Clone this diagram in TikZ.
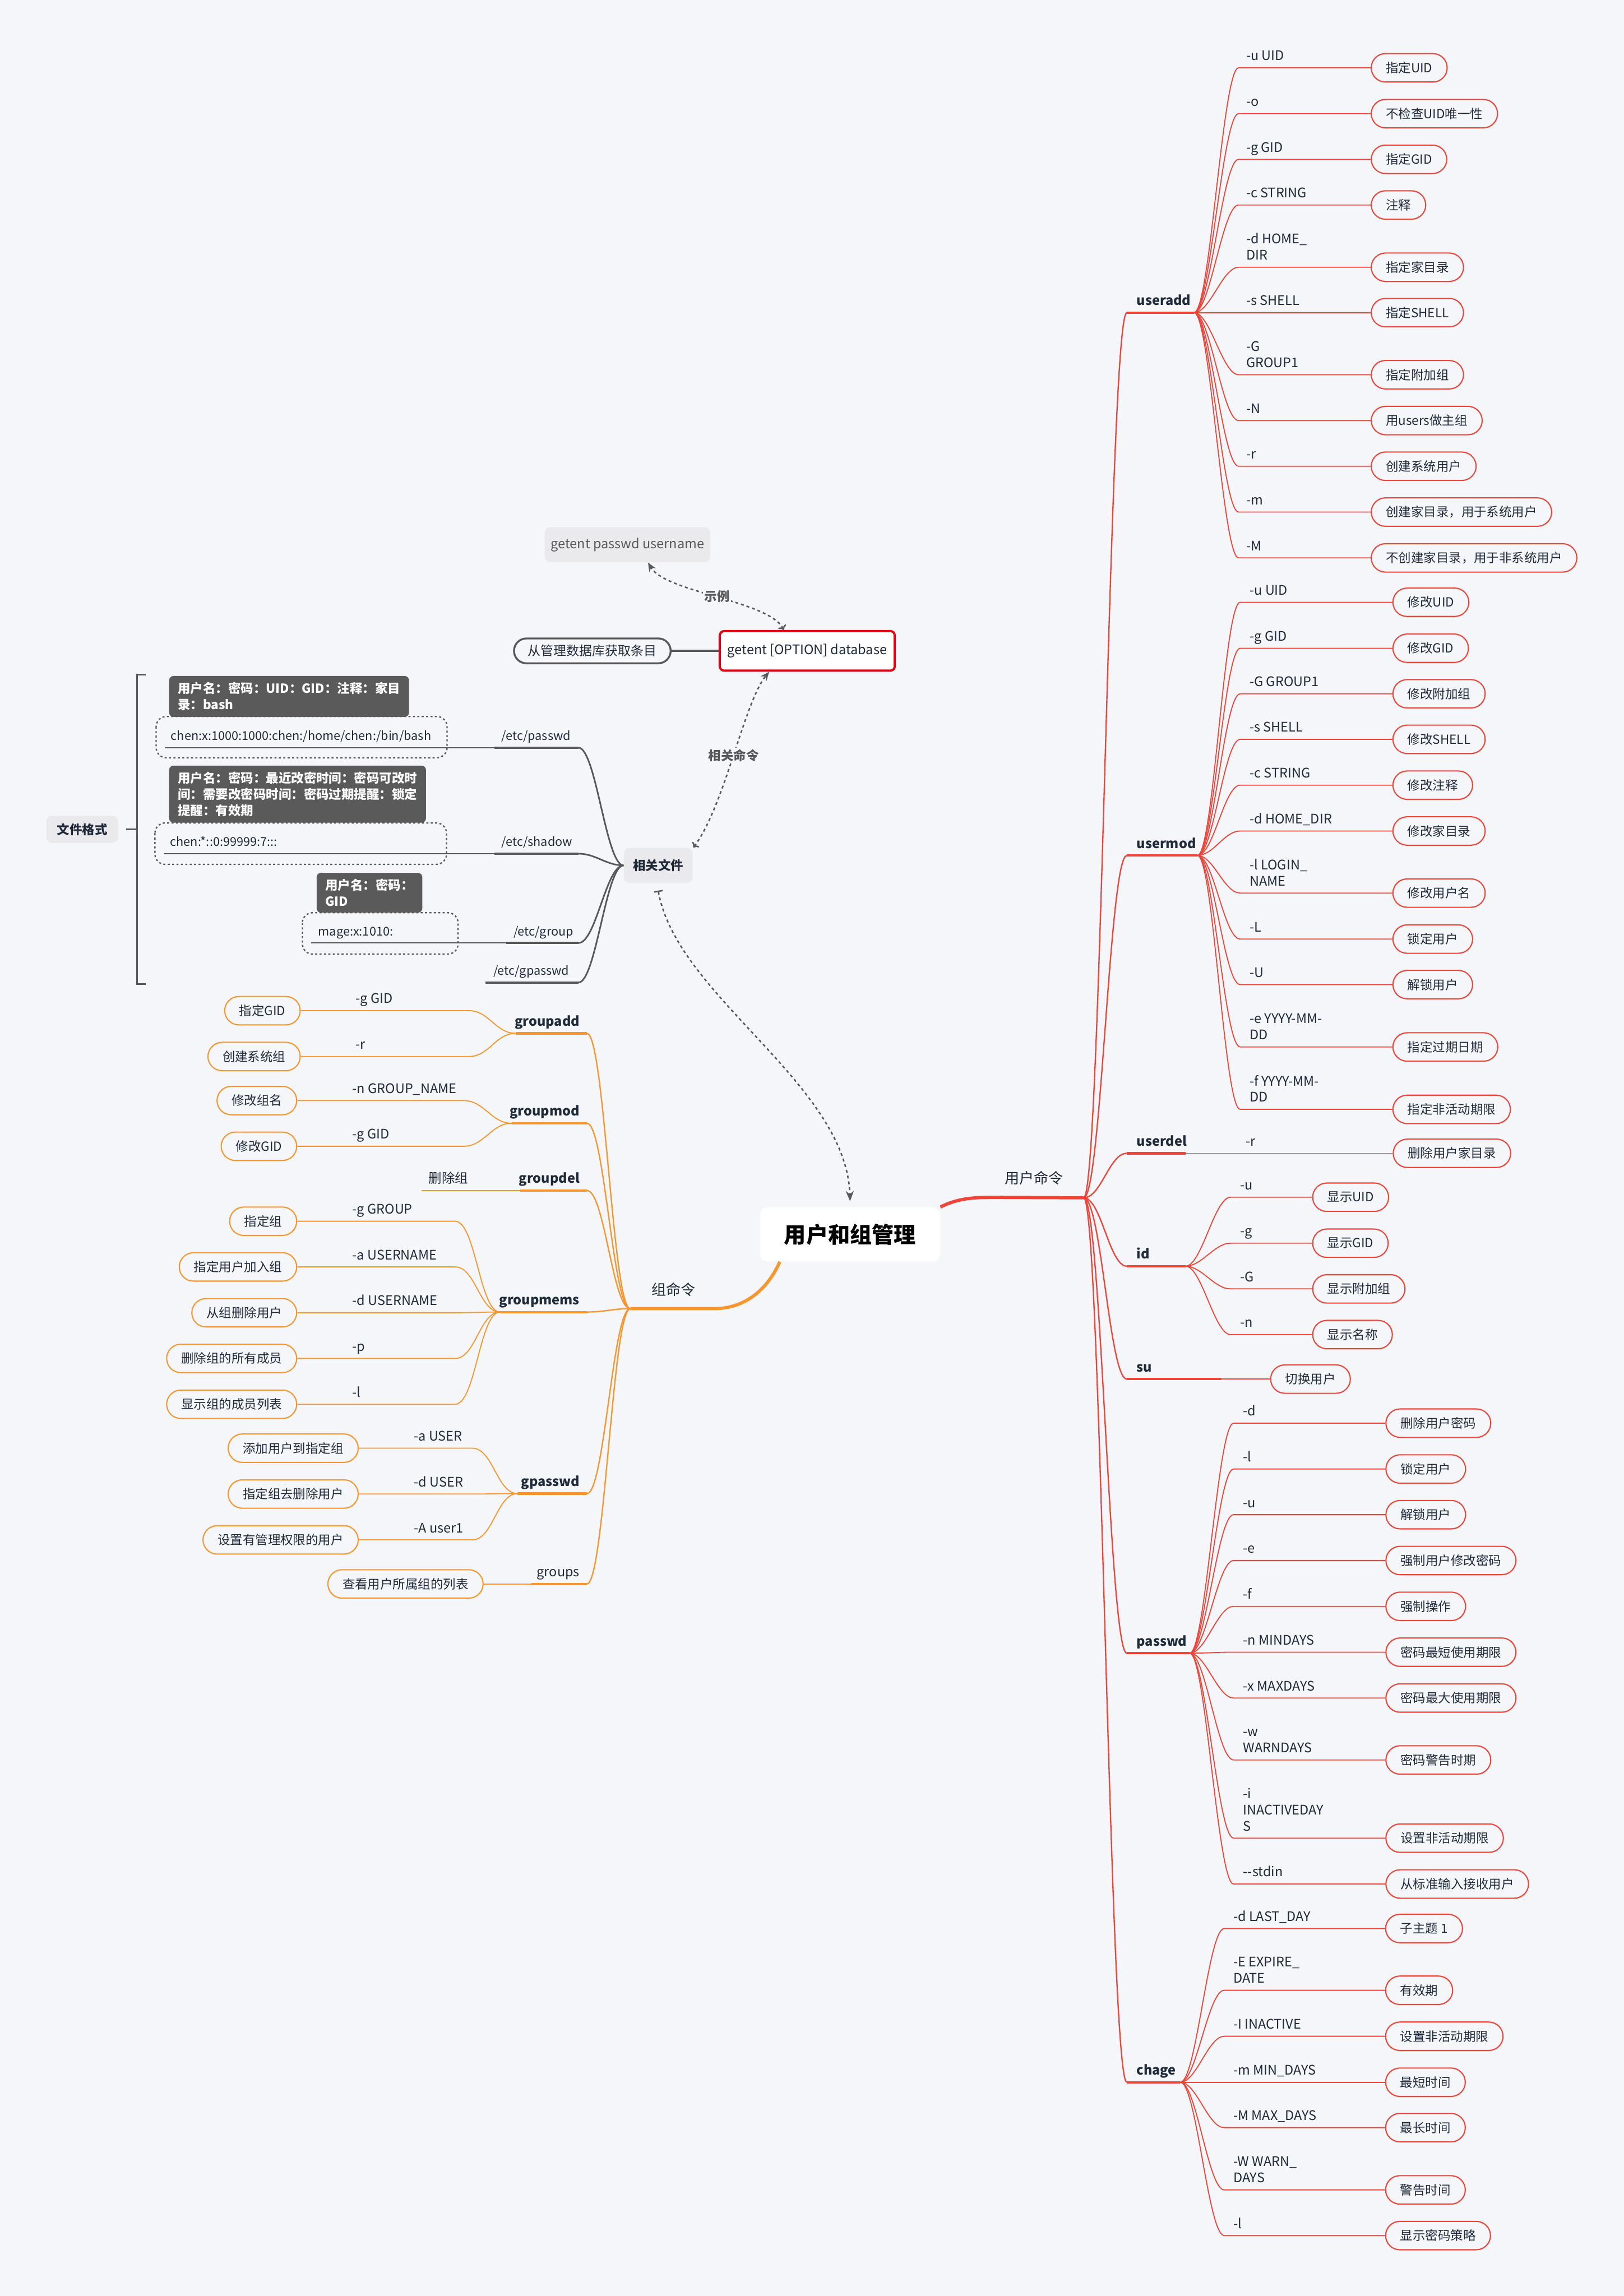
\documentclass[tikz,border=0pt]{standalone}
\usepackage{fontspec}
\setmainfont{Noto Sans CJK SC}
\usetikzlibrary{arrows.meta, positioning}
\tikzset{>=Stealth}
\definecolor{bg}{RGB}{245,246,250}
\definecolor{ured}{RGB}{240,68,56}
\definecolor{gorg}{RGB}{248,150,46}
\definecolor{ink}{RGB}{31,42,58}
\definecolor{fline}{RGB}{88,88,88}
\definecolor{tagbg}{RGB}{90,90,90}
\definecolor{boxgrey}{RGB}{234,234,236}
\definecolor{hotred}{RGB}{232,0,18}

\begin{document}
\begin{tikzpicture}[x=1pt, y=-1pt,
  lbl/.style={anchor=south west, inner sep=0.5pt, align=left, text=ink,
    font=\fontsize{9}{11}\selectfont, execute at end node={\strut}},
  small/.style={lbl, font=\fontsize{8.3}{11}\selectfont},
  cmd/.style={lbl, font=\fontsize{9}{11}\selectfont\bfseries},
  cmdr/.style={cmd, anchor=south east},
  pillR/.style={draw=ured, line width=0.8pt, rounded corners=9.7pt,
    minimum height=19.4pt, inner xsep=10pt, inner ysep=0pt, anchor=west,
    text=ink, font=\fontsize{8.6}{11}\selectfont},
  pillO/.style={pillR, draw=gorg, anchor=east},
  fanR/.style={ured, line width=0.9pt},
  ulR/.style={ured, line width=1.6pt},
  subR/.style={ured, line width=0.7pt},
  fanO/.style={gorg, line width=0.9pt},
  ulO/.style={gorg, line width=1.6pt},
  subO/.style={gorg, line width=0.7pt},
  fanG/.style={fline, line width=1.1pt},
  ulG/.style={fline, line width=1.5pt},
  subG/.style={fline, line width=0.7pt},
  dotbox/.style={fline, line width=0.9pt, dash pattern=on 1.4pt off 1.6pt, rounded corners=7pt},
  tag/.style={fill=tagbg, text=white, anchor=south west, align=left, inner xsep=6pt,
    inner ysep=4.3pt, rounded corners=3pt, font=\fontsize{8.6}{11}\selectfont\bfseries},
  topic/.style={fill=boxgrey, rounded corners=4pt, text=ink, font=\fontsize{8.6}{11}\selectfont\bfseries},
  rel/.style={fline, line width=1pt, dash pattern=on 2pt off 2pt},
  relt/.style={fill=bg, inner sep=1pt, text=fline, font=\fontsize{8.6}{11}\selectfont\bfseries}]
\path[use as bounding box, fill=bg] (0,0) rectangle (1109,1568);

\node[fill=white, rounded corners=5pt, minimum width=123pt, minimum height=37pt,
  font=\fontsize{15}{18}\selectfont\bfseries] (root) at (580.5,843) {用户和组管理};
\coordinate (U) at (740,818);
\coordinate (G) at (430.4,893.7);
\draw[ured, line width=2.2pt] (root.north east) .. controls +(12,-6) and +(-16,0) .. (680,817.7) -- (U);
\draw[gorg, line width=2.2pt] ([xshift=-48pt]root.south) .. controls +(-8,18) and +(22,0) .. (487.6,893.7) -- (G);
\node[text=ink, font=\fontsize{10}{12}\selectfont] (ucmd) at (706,804.5) {用户命令};
\node[text=ink, font=\fontsize{10}{12}\selectfont] (gcmd) at (460,880.5) {组命令};

% user commands
\foreach \n/\y/\h/\lab in {uadd/213.5/815.4/useradd, umod/584.2/817.7/usermod,
  udel/787.6/809.6/userdel, uid/864.7/809.6/id, usu/941.8/833.8/su,
  upw/1129/812.4/passwd, uch/1422/806/chage}{
  \coordinate (\n0) at (769.5,\y);
  \coordinate (\n) at (\h,\y);
  \draw[fanR] (U) .. controls +(12,0) and +(-12,0) .. (\n0);
  \draw[ulR] (\n0) -- (\n);
  \node[cmd] (\n T) at (775.5,{\y-1}) {\lab};
}
\foreach \y/\opt/\dsc [count=\nn] in {46.3/{-u UID}/指定UID, 77.6/{-o}/不检查UID唯一性,
  108.8/{-g GID}/指定GID, 140/{-c STRING}/注释, 182.5/{-d HOME\_\\DIR}/指定家目录,
  213.5/{-s SHELL}/指定SHELL, 255.9/{-G\\GROUP1}/指定附加组, 287.2/{-N}/用users做主组,
  318.4/{-r}/创建系统用户, 349.7/{-m}/创建家目录，用于系统用户,
  381/{-M}/不创建家目录，用于非系统用户}{
  \coordinate (ua\nn) at (845.8,\y);
  \node[lbl] (uaO\nn) at (850.3,{\y-1}) {\opt};
  \node[pillR] (uaP\nn) at (936,\y) {\dsc};
  \draw[subR] (uadd) .. controls +(11,0) and +(-11,0) .. (ua\nn) -- (uaP\nn);
}
\foreach \y/\opt/\dsc [count=\nn] in {411.3/{-u UID}/修改UID, 442.7/{-g GID}/修改GID,
  473.8/{-G GROUP1}/修改附加组, 504.9/{-s SHELL}/修改SHELL, 536.2/{-c STRING}/修改注释,
  567.5/{-d HOME\_DIR}/修改家目录, 609.9/{-l LOGIN\_\\NAME}/修改用户名, 641.3/{-L}/锁定用户,
  672.4/{-U}/解锁用户, 715/{-e YYYY-MM-\\DD}/指定过期日期, 757.6/{-f YYYY-MM-\\DD}/指定非活动期限}{
  \coordinate (um\nn) at (846.9,\y);
  \node[lbl] (umO\nn) at (852.7,{\y-1}) {\opt};
  \node[pillR] (umP\nn) at (950.8,\y) {\dsc};
  \draw[subR] (umod) .. controls +(11,0) and +(-11,0) .. (um\nn) -- (umP\nn);
}
\coordinate (ud1) at (845,787.6);
\node[lbl] (udO1) at (850,786.6) {-r};
\node[pillR] (udP1) at (951,787.6) {删除用户家目录};
\draw[subR] (udel) -- (udP1);
\foreach \y/\opt/\dsc [count=\nn] in {817.6/{-u}/显示UID, 849/{-g}/显示GID,
  880.2/{-G}/显示附加组, 911.4/{-n}/显示名称}{
  \coordinate (ui\nn) at (840.3,\y);
  \node[lbl] (uiO\nn) at (846.3,{\y-1}) {\opt};
  \node[pillR] (uiP\nn) at (896,\y) {\dsc};
  \draw[subR] (uid) .. controls +(11,0) and +(-11,0) .. (ui\nn) -- (uiP\nn);
}
\node[pillR] (usP1) at (867.3,941.8) {切换用户};
\draw[subR] (usu) -- (usP1);
\foreach \y/\opt/\dsc [count=\nn] in {971.9/{-d}/删除用户密码, 1003.2/{-l}/锁定用户,
  1034.4/{-u}/解锁用户, 1065.7/{-e}/强制用户修改密码, 1097/{-f}/强制操作,
  1128.3/{-n MINDAYS}/密码最短使用期限, 1159.6/{-x MAXDAYS}/密码最大使用期限,
  1201.9/{-w\\WARNDAYS}/密码警告时期, 1255.3/{-i\\INACTIVEDAY\\S}/设置非活动期限,
  1286.6/{-{}-stdin}/从标准输入接收用户}{
  \coordinate (up\nn) at (842.4,\y);
  \node[lbl] (upO\nn) at (848.3,{\y-1}) {\opt};
  \node[pillR] (upP\nn) at (946,\y) {\dsc};
  \draw[subR] (upw) .. controls +(11,0) and +(-11,0) .. (up\nn) -- (upP\nn);
}
\foreach \y/\opt/\dsc [count=\nn] in {1317/{-d LAST\_DAY}/子主题 1, 1359.2/{-E EXPIRE\_\\DATE}/有效期,
  1390.6/{-I INACTIVE}/设置非活动期限, 1422/{-m MIN\_DAYS}/最短时间,
  1453/{-M MAX\_DAYS}/最长时间, 1495.5/{-W WARN\_\\DAYS}/警告时间, 1526.7/{-l}/显示密码策略}{
  \coordinate (uc\nn) at (836,\y);
  \node[lbl] (ucO\nn) at (841.5,{\y-1}) {\opt};
  \node[pillR] (ucP\nn) at (945.8,\y) {\dsc};
  \draw[subR] (uch) .. controls +(11,0) and +(-11,0) .. (uc\nn) -- (ucP\nn);
}

% group commands
\foreach \n/\y/\h/\lab in {gadd/705.7/352.2/groupadd, gmod/767.1/349.4/groupmod,
  gdel/813/355.2/groupdel, gmem/896/341.5/groupmems, gpw/1020/353.4/gpasswd}{
  \coordinate (\n0) at (400.8,\y);
  \coordinate (\n) at (\h,\y);
  \draw[fanO] (G) .. controls +(-12,0) and +(12,0) .. (\n0);
  \draw[ulO] (\n0) -- (\n);
  \node[cmdr] (\n T) at (396.5,{\y-1}) {\lab};
}
\coordinate (gs0) at (400.8,1081.7);
\coordinate (gs) at (362.9,1081.7);
\draw[fanO] (G) .. controls +(-12,0) and +(12,0) .. (gs0);
\draw[ulO] (gs0) -- (gs);
\node[lbl, anchor=south east] (gsT) at (396.5,1080.7) {groups};
\node[pillO] (gsP) at (330.3,1081.7) {查看用户所属组的列表};
\draw[subO] (gs) -- (gsP);
\foreach \y/\opt/\dsc [count=\nn] in {690.2/{-g GID}/指定GID, 721.5/{-r}/创建系统组}{
  \coordinate (ga\nn) at (320.2,\y);
  \node[lbl] (gaO\nn) at (242.2,{\y-1}) {\opt};
  \node[pillO] (gaP\nn) at (205.4,\y) {\dsc};
  \draw[subO] (gadd) .. controls +(-14,0) and +(14,0) .. (ga\nn) -- (gaP\nn);
}
\foreach \y/\opt/\dsc [count=\nn] in {751.6/{-n GROUP\_NAME}/修改组名, 782.8/{-g GID}/修改GID}{
  \coordinate (gm\nn) at (316.7,\y);
  \node[lbl] (gmO\nn) at (240,{\y-1}) {\opt};
  \node[pillO] (gmP\nn) at (203,\y) {\dsc};
  \draw[subO] (gmod) .. controls +(-14,0) and +(14,0) .. (gm\nn) -- (gmP\nn);
}
\coordinate (gd1) at (287.8,813);
\node[lbl] (gdO1) at (292,812) {删除组};
\draw[subO] (gdel) -- (gd1);
\foreach \y/\opt/\dsc [count=\nn] in {834/{-g GROUP}/指定组, 865.2/{-a USERNAME}/指定用户加入组,
  896.5/{-d USERNAME}/从组删除用户, 927.7/{-p}/删除组的所有成员, 959/{-l}/显示组的成员列表}{
  \coordinate (gc\nn) at (310.8,\y);
  \node[lbl] (gcO\nn) at (240,{\y-1}) {\opt};
  \node[pillO] (gcP\nn) at (203,\y) {\dsc};
  \draw[subO] (gmem) .. controls +(-14,0) and +(14,0) .. (gc\nn) -- (gcP\nn);
}
\foreach \y/\opt/\dsc [count=\nn] in {989/{-a USER}/添加用户到指定组, 1020.3/{-d USER}/指定组去删除用户,
  1051.6/{-A user1}/设置有管理权限的用户}{
  \coordinate (gp\nn) at (322.6,\y);
  \node[lbl] (gpO\nn) at (282,{\y-1}) {\opt};
  \node[pillO] (gpP\nn) at (245,\y) {\dsc};
  \draw[subO] (gpw) .. controls +(-14,0) and +(14,0) .. (gp\nn) -- (gpP\nn);
}

% related files
\node[topic, minimum width=47pt, minimum height=24pt] (rf) at (449.5,591) {相关文件};
\coordinate (fpw0) at (395,510.6);  \coordinate (fpw) at (337.6,510.6);
\coordinate (fsh0) at (395,583);    \coordinate (fsh) at (337.6,583);
\coordinate (fgr0) at (395,644);    \coordinate (fgr) at (345.5,644);
\coordinate (fgp0) at (395,671);    \coordinate (fgp) at (331.7,671);
\foreach \n in {fpw,fsh,fgr,fgp}{
  \draw[fanG] (rf.west) .. controls +(-12,0) and +(12,0) .. (\n0);
  \draw[ulG] (\n0) -- (\n);
}
\node[small] (fpwT) at (341.8,509.6) {/etc/passwd};
\node[small] (fshT) at (341.8,582) {/etc/shadow};
\node[small] (fgrT) at (350,643) {/etc/group};
\node[small] (fgpT) at (336.2,670) {/etc/gpasswd};
\draw[dotbox] (106.6,489.3) rectangle (305.3,517.5);
\draw[dotbox] (105.8,562) rectangle (304.9,590.3);
\draw[dotbox] (206.5,623.3) rectangle (312.8,651.6);
\coordinate (cpw) at (112.5,510.6);
\coordinate (csh) at (111.8,583);
\coordinate (cgr) at (212.5,644);
\draw[subG] (fpw) -- (cpw);
\draw[subG] (fsh) -- (csh);
\draw[subG] (fgr) -- (cgr);
\node[small] (cpwT) at (116,509.6) {chen:x:1000:1000:chen:/home/chen:/bin/bash};
\node[small] (cshT) at (115.5,582) {chen:*::0:99999:7:::};
\node[small] (cgrT) at (216.7,643) {mage:x:1010:};
\node[tag] (tpw) at (115.3,489.8) {用户名：密码：UID：GID：注释：家目\\录：bash};
\node[tag] (tsh) at (115.3,562) {用户名：密码：最近改密时间：密码可改时\\间：需要改密码时间：密码过期提醒：锁定\\提醒：有效期};
\node[tag] (tgr) at (216,623.5) {用户名：密码：\\GID};
\node[topic, minimum width=49pt, minimum height=18.5pt] (fmt) at (56.1,566.4) {文件格式};
\draw[fline, line width=1.3pt] (99.5,460.7) -- (93.6,460.7) -- (93.6,672) -- (99.5,672);
\draw[fline, line width=1.3pt] (93.6,566.4) -- ([xshift=5.4pt]fmt.east);

% getent
\node[fill=boxgrey, rounded corners=4pt, minimum width=113pt, minimum height=24pt,
  text=fline, font=\fontsize{9}{11}\selectfont] (ex) at (428.5,372) {getent passwd username};
\node[draw=hotred, line width=1.5pt, fill=white, rounded corners=3pt, minimum width=119.5pt,
  minimum height=27pt, text=ink, font=\fontsize{9}{11}\selectfont] (ge) at (551.25,444.5) {getent [OPTION] database};
\node[draw=fline, line width=1.3pt, rounded corners=8.5pt, minimum width=107pt, minimum height=17pt,
  text=ink, font=\fontsize{8.8}{11}\selectfont] (db) at (404.5,444.5) {从管理数据库获取条目};
\draw[fline, line width=1.5pt] (db) -- (ge);
\draw[rel, {To[length=3pt,width=6pt]}-{Stealth[length=6pt,width=5pt]}] ([xshift=-16pt]ge.north)
  .. controls (525,410) and (455,405) .. ([xshift=14pt]ex.south) node[relt, pos=0.5] (exT) {示例};
\draw[rel, {To[length=3pt,width=6pt]}-{Stealth[length=6pt,width=5pt]}] ([xshift=24pt]rf.north)
  .. controls (495,550) and (508,480) .. ([xshift=-26pt]ge.south) node[relt, pos=0.5] (rcT) {相关命令};
\draw[rel, {Bar[width=6pt]}-{Stealth[length=7pt,width=5.5pt]}] ([yshift=-5pt]rf.south)
  .. controls (462,680) and (578,740) .. ([yshift=4pt]root.north);
\end{tikzpicture}
\end{document}
